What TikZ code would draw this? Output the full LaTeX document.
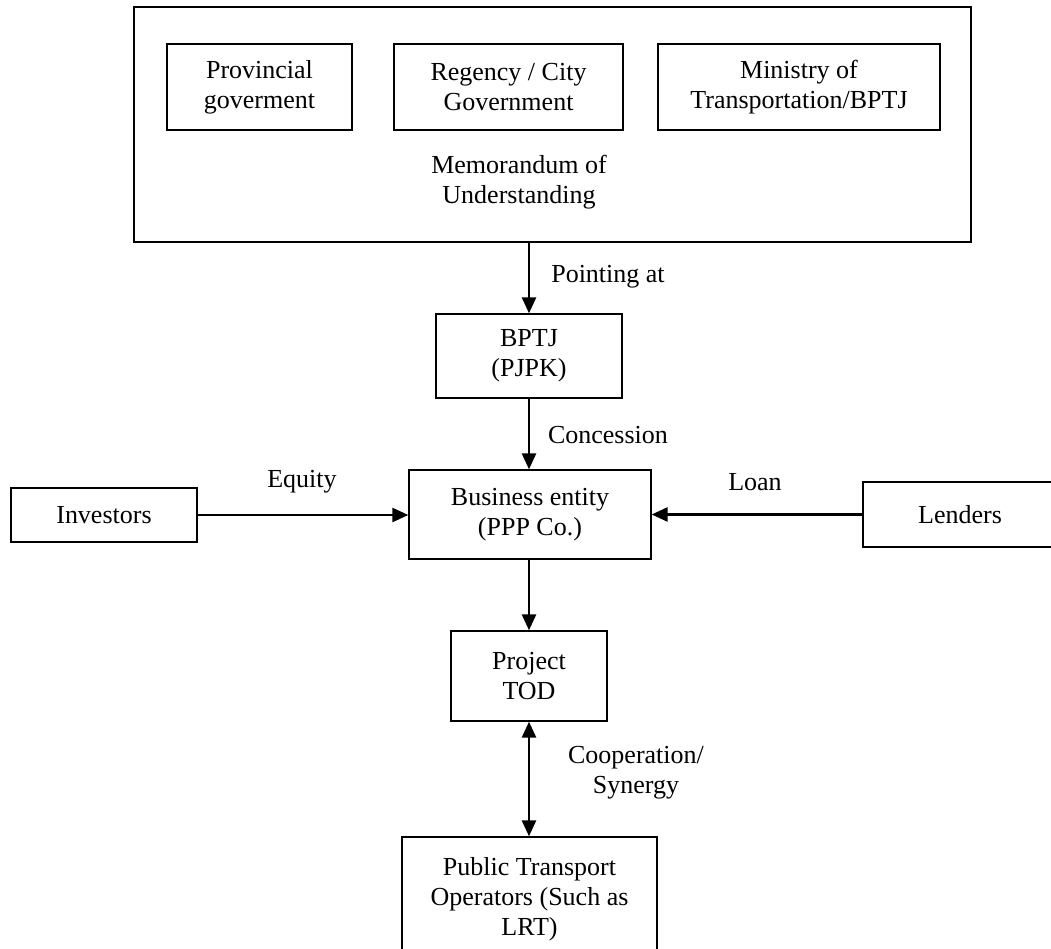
\documentclass[tikz,border=0pt]{standalone}
\usepackage{fontspec}
\setmainfont{Liberation Serif}
\usetikzlibrary{arrows.meta}
\begin{document}
\begin{tikzpicture}[x=0.75pt,y=-0.75pt,
 txt/.style={font=\fontsize{19.5}{22.5}\selectfont},
 box/.style={draw,line width=1pt,align=center,inner sep=0pt,txt},
 lbl/.style={align=center,inner sep=0pt,txt},
 arr/.style={line width=2pt,-{Triangle[length=12pt,width=10.5pt]}},
 darr/.style={line width=2pt,{Triangle[length=12pt,width=10.5pt]}-{Triangle[length=12pt,width=10.5pt]}}]
\useasboundingbox (0,0) rectangle (1051,949);
\clip (0,0) rectangle (1051,949);
\fill[white] (0,0) rectangle (1051,949);
% top group
\node[box,line width=1.5pt,minimum width=627.75pt,minimum height=176.25pt] (outer) at (552.5,124.5) {};
\node[box,minimum width=138.75pt,minimum height=64.5pt] (prov) at (259.5,87) {Provincial\\goverment};
\node[box,minimum width=171.75pt,minimum height=64.5pt] (reg) at (508.5,87) {Regency / City\\Government};
\node[box,minimum width=211.5pt,minimum height=64.5pt] (min) at (799,87) {Ministry of\\Transportation/BPTJ};
\node[lbl] (memo) at (519,182) {Memorandum of\\Understanding};
% chain
\node[box,minimum width=139.5pt,minimum height=63pt] (bptj) at (529,356) {BPTJ\\(PJPK)};
\node[box,minimum width=181.5pt,minimum height=66.75pt] (biz) at (530,514.5) {Business entity\\(PPP Co.)};
\node[box,minimum width=139.5pt,minimum height=40.5pt] (inv) at (104,515) {Investors};
\node[box,minimum width=145.5pt,minimum height=48.75pt] (lend) at (960,514.5) {Lenders};
\node[box,minimum width=117pt,minimum height=67.5pt] (proj) at (529,676) {Project\\TOD};
\node[box,minimum width=191.25pt,minimum height=93.75pt] (pub) at (529.5,899.5) {Public Transport\\Operators (Such as\\LRT)};
% connectors
\draw[arr] (outer.south -| bptj.north) -- (bptj.north);
\draw[arr] (bptj.south) -- (bptj.south |- biz.north);
\draw[arr] (inv.east) -- (inv.east -| biz.west);
\draw[arr] (lend.west) -- (lend.west -| biz.east);
\draw[arr] (biz.south -| proj.north) -- (proj.north);
\draw[darr] (proj.south) -- (proj.south |- pub.north);
% labels
\node[lbl] (lpoint) at (608,277) {Pointing at};
\node[lbl] (lconc) at (608,435) {Concession};
\node[lbl] (lequity) at (302,482) {Equity};
\node[lbl] (lloan) at (755,482) {Loan};
\node[lbl] (lcoop) at (636,773) {Cooperation/\\Synergy};
\end{tikzpicture}
\end{document}
